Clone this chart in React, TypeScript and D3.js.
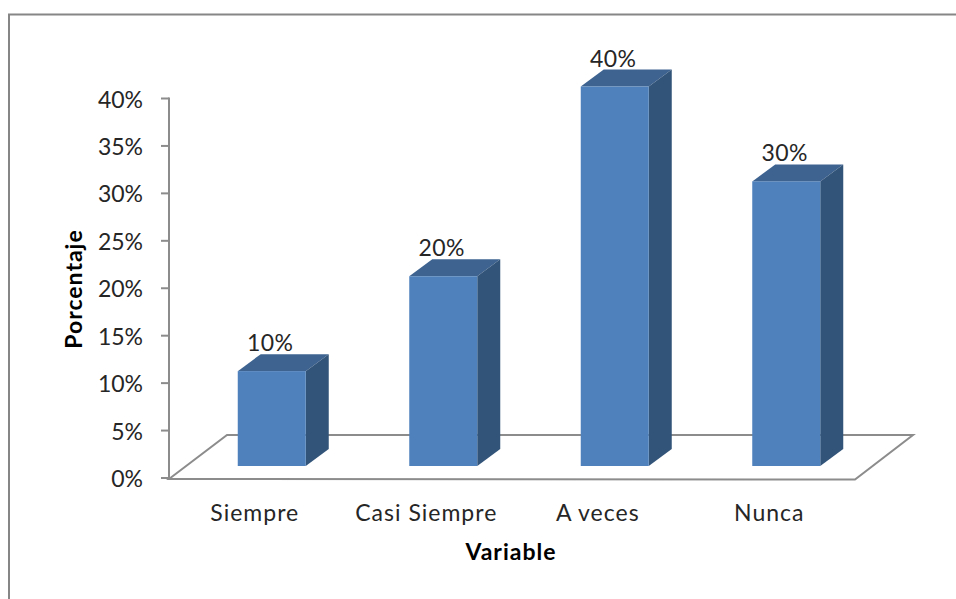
import React from "react";
import * as d3 from "d3";

const categories = ["Siempre", "Casi Siempre", "A veces", "Nunca"];
const shares = [0.1, 0.2, 0.4, 0.3];
const axisTicks = [0, 0.05, 0.1, 0.15, 0.2, 0.25, 0.3, 0.35, 0.4];

const WIDTH = 956;
const HEIGHT = 599;
const FONT = "Lato, 'Open Sans', sans-serif";
const GREY = "#8c8c8c";

// Oblique projection: floor depth, bar depth, and where bars sit inside the floor.
const FLOOR_DX = 58;
const FLOOR_DY = -44;
const BAR_DX = 23;
const BAR_DY = -17;
const BAR_INSET_X = 17;
const BAR_INSET_Y = -12;
const BAR_WIDTH = 68;

const x = d3.scaleBand<string>().domain(categories).range([169, 855]);
const y = d3.scaleLinear().domain([0, 0.4]).range([478, 98.5]);
const pct = d3.format(".0%");
const poly = d3.line();

export default function App() {
  const y0 = y(0);
  const floorRight = x.range()[1];
  const floorLeft = x.range()[0];
  return (
    <svg
      width={WIDTH}
      height={HEIGHT}
      viewBox={`0 0 ${WIDTH} ${HEIGHT}`}
      style={{ position: "absolute", left: 0, top: 0, background: "#fff" }}
    >
      {/* chart frame, open at the right and bottom edges of the page */}
      <path d={`M9,${HEIGHT} V14.5 H${WIDTH}`} fill="none" stroke="#868686" strokeWidth={2} />

      {/* floor of the 3-D plot */}
      <path
        d={
          poly([
            [floorLeft, y0 + 1],
            [floorLeft + FLOOR_DX, y0 + FLOOR_DY + 1],
            [floorRight + FLOOR_DX, y0 + FLOOR_DY + 1],
            [floorRight, y0 + 1.5],
          ])! + "Z"
        }
        fill="#fff"
        stroke={GREY}
        strokeWidth={2}
      />

      {/* value axis */}
      <line x1={169} x2={169} y1={y(0.4) - 1} y2={y0 + 1} stroke={GREY} strokeWidth={2} />
      {axisTicks.map((t) => (
        <g key={t}>
          <line x1={161} x2={169} y1={y(t)} y2={y(t)} stroke={GREY} strokeWidth={2} />
          <text
            x={143}
            y={y(t) + 9}
            textAnchor="end"
            fontFamily={FONT}
            fontSize={23}
            fill="#262626"
          >
            {pct(t)}
          </text>
        </g>
      ))}

      {/* bars: front, top and side faces */}
      {categories.map((c, i) => {
        const left = x(c)! + x.bandwidth() / 2 + BAR_INSET_X - BAR_WIDTH / 2;
        const right = left + BAR_WIDTH;
        const top = y(shares[i]) + BAR_INSET_Y;
        const bottom = y0 + BAR_INSET_Y;
        return (
          <g key={c}>
            <path
              d={
                poly([
                  [left, top],
                  [left + BAR_DX, top + BAR_DY],
                  [right + BAR_DX, top + BAR_DY],
                  [right, top],
                ])! + "Z"
              }
              fill="#3e6390"
            />
            <path
              d={
                poly([
                  [right, top],
                  [right + BAR_DX, top + BAR_DY],
                  [right + BAR_DX, bottom + BAR_DY],
                  [right, bottom],
                ])! + "Z"
              }
              fill="#325479"
            />
            <rect x={left} y={top} width={BAR_WIDTH} height={bottom - top} fill="#4f81bd" />
            <text
              x={left + BAR_WIDTH / 2 - 1.5}
              y={top - 20}
              textAnchor="middle"
              fontFamily={FONT}
              fontSize={23}
              letterSpacing={0.5}
              fill="#262626"
            >
              {pct(shares[i])}
            </text>
            <text
              x={x(c)! + x.bandwidth() / 2}
              y={521}
              textAnchor="middle"
              fontFamily={FONT}
              fontSize={23}
              letterSpacing={1}
              fill="#262626"
            >
              {c}
            </text>
          </g>
        );
      })}

      {/* axis titles */}
      <text
        x={511}
        y={560}
        textAnchor="middle"
        fontFamily={FONT}
        fontSize={23}
        fontWeight={700}
        letterSpacing={1}
        fill="#000"
      >
        Variable
      </text>
      <text
        transform="translate(82,289) rotate(-90)"
        textAnchor="middle"
        fontFamily={FONT}
        fontSize={23}
        fontWeight={700}
        letterSpacing={1}
        fill="#000"
      >
        Porcentaje
      </text>
    </svg>
  );
}
